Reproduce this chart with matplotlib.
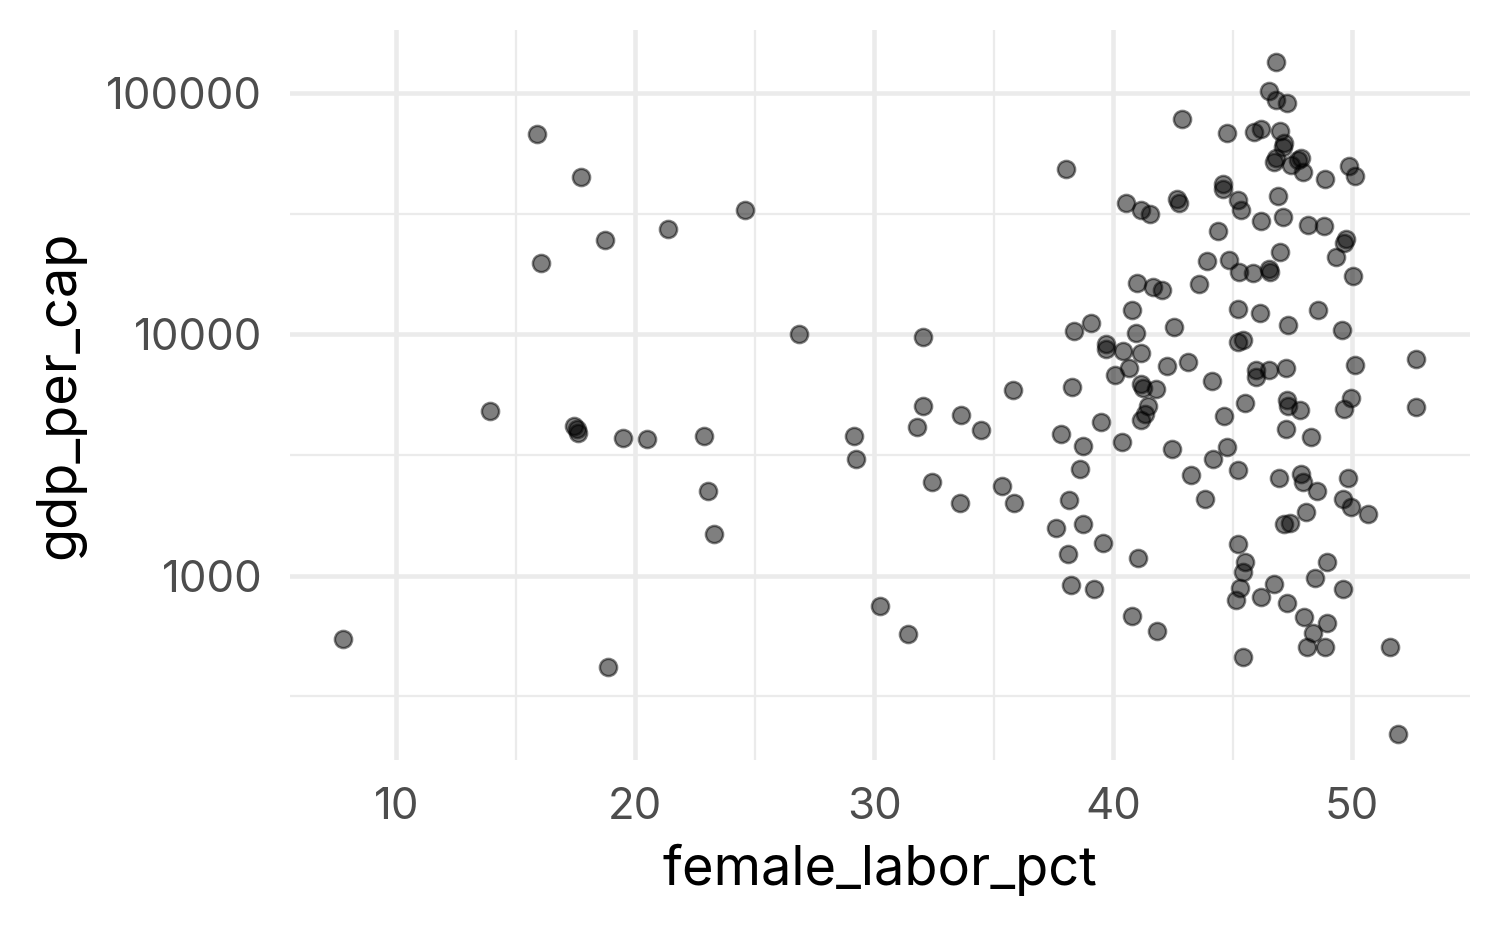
import numpy as np
import matplotlib
matplotlib.use("Agg")
import matplotlib.pyplot as plt
from matplotlib.ticker import FixedLocator, FixedFormatter, NullFormatter

# DATA
female_labor_pct = [
    7.78, 15.89, 17.73, 16.06, 18.74, 21.37, 24.59, 13.93, 17.45, 17.55,
    17.62, 19.51, 20.49, 22.88, 23.03, 23.28, 18.87, 26.85, 32.05, 35.80,
    38.26, 32.03, 31.78, 33.62, 34.49, 29.15, 29.25, 32.44, 33.61, 35.35,
    35.84, 37.83, 38.75, 38.60, 38.15, 37.59, 38.74, 38.10, 38.22, 39.22,
    30.23, 31.40,
    38.04, 42.90, 44.75, 40.55, 41.15, 41.56, 42.68, 42.74, 44.59, 44.59,
    45.23, 45.34, 44.41, 43.91, 44.83, 45.26, 45.87, 41.00, 41.69, 42.05,
    43.60,
    46.82, 46.51, 46.82, 47.28, 45.91, 46.19, 46.97, 47.17, 47.10, 46.82,
    46.75, 47.45, 47.86, 47.93, 47.75, 48.88, 49.88, 50.12, 46.90, 46.19,
    47.11, 48.15, 48.82, 49.66, 49.74, 49.34, 50.02, 46.97, 46.54, 46.57,
    40.78, 45.22, 39.06, 38.37, 40.95, 42.54, 45.22, 45.43, 39.69, 39.69,
    40.41, 41.15, 40.65, 40.09, 42.25, 43.14, 44.14, 41.15, 41.25, 41.80,
    41.46, 41.32, 41.15, 39.48, 44.63, 45.53, 40.36, 42.48, 44.76, 44.18,
    45.22, 43.24, 43.86,
    46.16, 47.32, 48.59, 49.59, 50.12, 52.66, 45.97, 45.97, 46.54, 47.22,
    47.28, 47.30, 47.84, 49.97, 49.66, 52.69, 47.22, 48.28, 46.93, 47.86,
    47.96, 48.52, 49.84, 49.63, 49.95, 50.66, 48.09,
    39.56, 41.06, 40.81, 41.84, 45.22, 45.54, 45.43, 45.29, 45.15, 45.43,
    47.17, 47.40, 46.75, 46.19, 47.27, 48.45, 48.94, 49.61, 48.00, 48.96,
    48.35, 48.10, 48.88, 51.60, 51.93,
]
gdp_per_cap = [
    548, 67600, 44800, 19700, 24500, 27300, 32700, 4800, 4150, 4050,
    3900, 3700, 3680, 3775, 2230, 1490, 419, 10000, 9750, 5900,
    6040, 5030, 4120, 4640, 4000, 3800, 3050, 2450, 1995, 2350,
    1990, 3850, 3450, 2760, 2060, 1570, 1630, 1230, 915, 877,
    748, 574,
    48500, 77800, 68200, 35000, 32700, 31600, 36400, 35000, 41900, 40100,
    36000, 32700, 26800, 20200, 20300, 18100, 17900, 16300, 15700, 15300,
    16200,
    134000, 102000, 93500, 91200, 69100, 70700, 69800, 61800, 59900, 53600,
    51900, 50300, 53600, 46900, 52700, 43800, 49900, 45200, 37500, 29400,
    30700, 28400, 28100, 23900, 24700, 20900, 17500, 21900, 18700, 18100,
    12600, 12700, 11100, 10300, 10070, 10700, 9290, 9440, 9100, 8650,
    8500, 8360, 7210, 6760, 7390, 7700, 6380, 6240, 6010, 5950,
    5030, 4660, 4400, 4330, 4570, 5190, 3560, 3340, 3400, 3040,
    2750, 2620, 2070,
    12200, 10970, 12600, 10400, 7480, 7900, 7130, 6650, 7130, 7250,
    5320, 5030, 4840, 5440, 4920, 4980, 4060, 3750, 2530, 2640,
    2430, 2240, 2540, 2070, 1930, 1800, 1830,
    1360, 1180, 682, 588, 1350, 1135, 1030, 890, 793, 461,
    1630, 1655, 925, 818, 771, 975, 1140, 881, 676, 634,
    577, 504, 504, 504, 220,
]

x_breaks = [10, 20, 30, 40, 50]
x_minor = [15, 25, 35, 45]
y_breaks = [1000, 10000, 100000]
y_labels = ["1000", "10000", "100000"]
y_minor = [316.23, 3162.3, 31623]

GRID = "#EBEBEB"


def expand(lo, hi, mult=0.05):
    d = (hi - lo) * mult
    return lo - d, hi + d


def main():
    plt.rcParams['font.family'] = ['Inter', 'DejaVu Sans']
    fig = plt.figure(figsize=(5, 3.09), dpi=300)
    ax = fig.add_axes([0.193, 0.180, 0.787, 0.788])

    x = np.array(female_labor_pct)
    y = np.array(gdp_per_cap)
    ax.scatter(x, y, s=17, facecolor=(0, 0, 0, 0.5),
               edgecolor=(0, 0, 0, 0.5), linewidths=0.6, zorder=3)

    ax.set_yscale('log')
    ax.set_xlim(*expand(x.min(), x.max()))
    ax.set_ylim(10 ** 2.235, 10 ** 5.262)

    ax.xaxis.set_major_locator(FixedLocator(x_breaks))
    ax.xaxis.set_minor_locator(FixedLocator(x_minor))
    ax.yaxis.set_major_locator(FixedLocator(y_breaks))
    ax.yaxis.set_major_formatter(FixedFormatter(y_labels))
    ax.yaxis.set_minor_locator(FixedLocator(y_minor))
    ax.yaxis.set_minor_formatter(NullFormatter())

    ax.grid(which='major', color=GRID, linewidth=1.1, zorder=0)
    ax.grid(which='minor', color=GRID, linewidth=0.55, zorder=0)
    ax.set_axisbelow(True)
    for s in ax.spines.values():
        s.set_visible(False)
    ax.tick_params(which='both', length=0, labelsize=10.5, labelcolor="#4D4D4D", pad=6.5)

    ax.set_xlabel("female_labor_pct", fontsize=13, va='center')
    ax.xaxis.set_label_coords(0.5, -0.150)
    ax.set_ylabel("gdp_per_cap", fontsize=13, va='center')
    ax.yaxis.set_label_coords(-0.195, 0.5)

    fig.savefig("out.png", dpi=300, facecolor="white")


if __name__ == '__main__':
    main()
